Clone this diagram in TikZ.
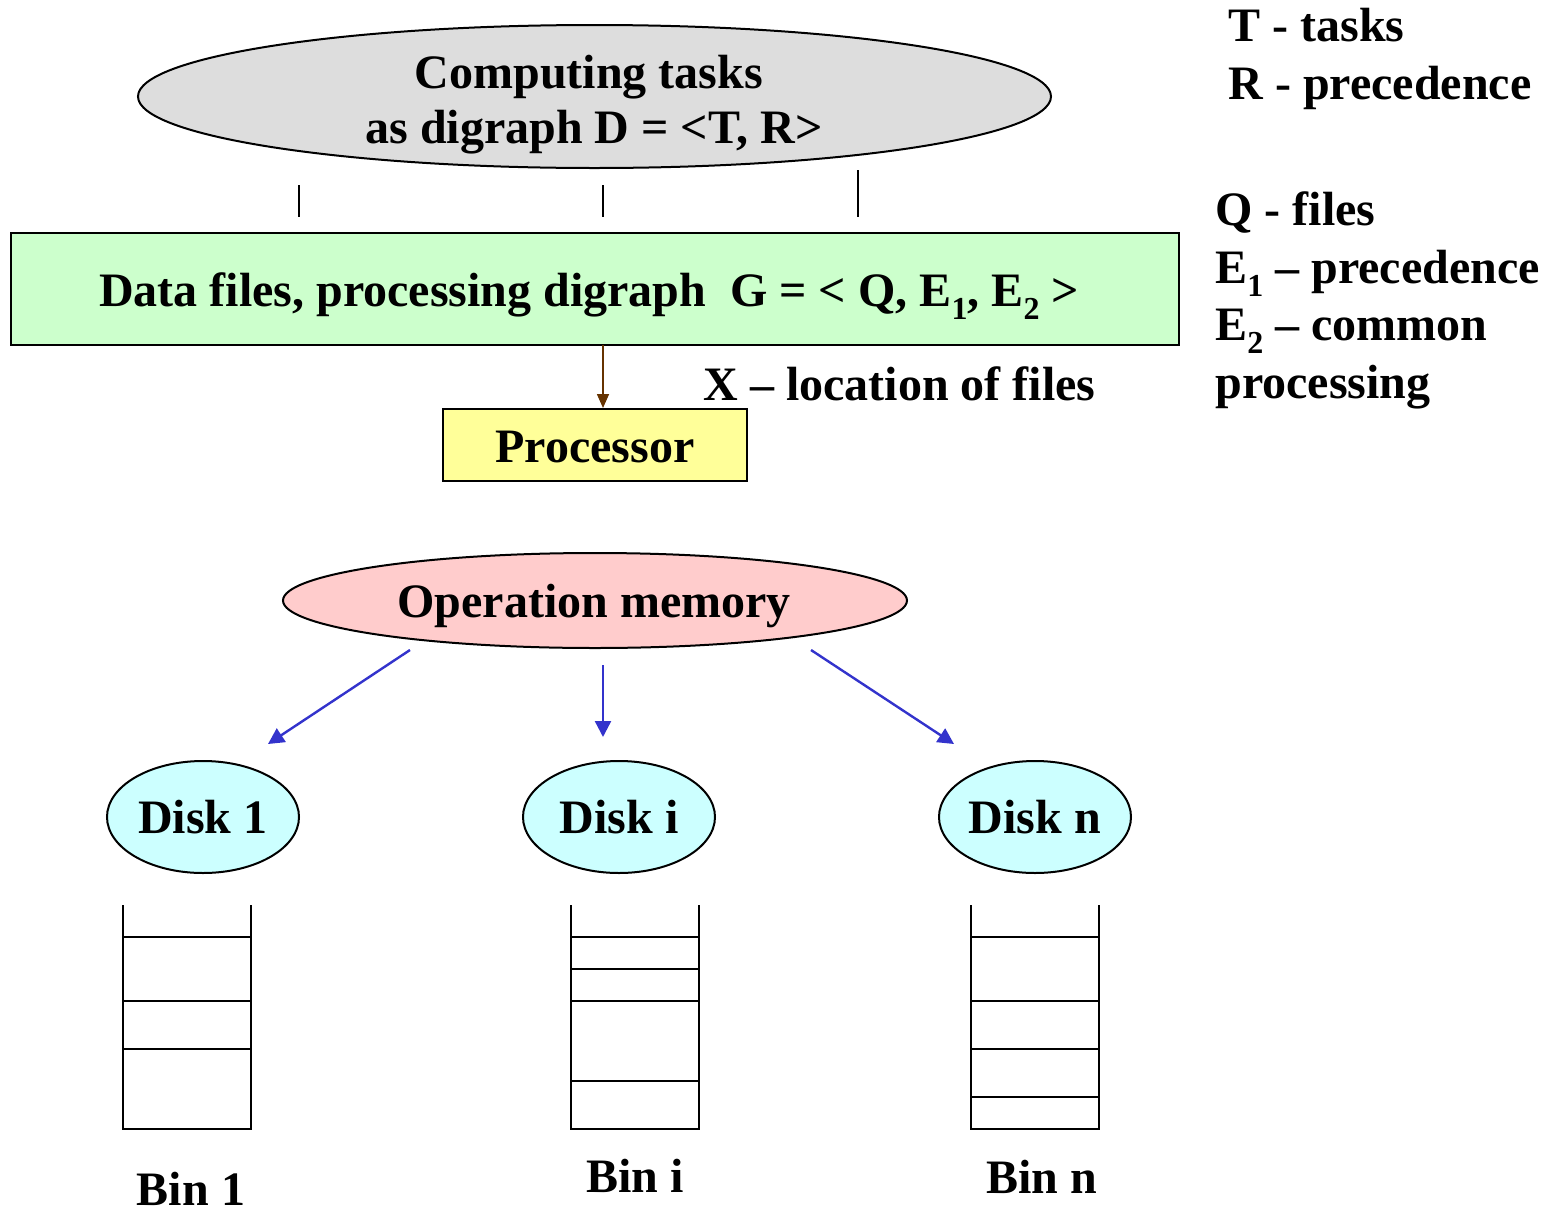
\documentclass[tikz,border=0pt]{standalone}
\usepackage{fontspec}
\setmainfont{Liberation Serif}
\usetikzlibrary{shapes.geometric,arrows.meta}

\definecolor{taskgray}{HTML}{DDDDDD}
\definecolor{filegreen}{HTML}{CCFFCC}
\definecolor{procyellow}{HTML}{FFFF99}
\definecolor{mempink}{HTML}{FFCCCC}
\definecolor{diskcyan}{HTML}{CCFFFF}
\definecolor{arrowblue}{HTML}{3333CC}
\definecolor{arrowbrown}{HTML}{663300}

\newcommand{\lowsub}[1]{\raisebox{-0.28em}{\fontsize{16}{16}\selectfont #1}}

\tikzset{
  lbl/.style={font=\fontsize{24}{28}\selectfont\bfseries, inner sep=0pt},
  oval/.style={ellipse, draw=black, line width=1pt, inner sep=0pt, lbl},
  boxed/.style={rectangle, draw=black, line width=1pt, inner sep=0pt, lbl},
  tick/.style={line width=0.7pt},
  memarrow/.style={draw=arrowblue, line width=1.2pt, -{Triangle[length=8pt,width=8pt]}},
  binline/.style={line width=1pt}
}

\begin{document}
\begin{tikzpicture}[x=0.5pt,y=-0.5pt]
  \useasboundingbox (0,0) rectangle (1555,1211);

  % task digraph
  \node[oval, fill=taskgray, minimum width=456.5pt, minimum height=71.5pt]
    (tasks) at (594.5,96.5) {};
  \node[lbl, anchor=base] (tasks1) at (589,88) {Computing tasks};
  \node[lbl, anchor=base] (tasks2) at (594,143) {as digraph D = <T, R>};

  % short marks between the task digraph and the file digraph
  \coordinate (t1a) at (299,185); \coordinate (t1b) at (299,217);
  \coordinate (t2a) at (603,185); \coordinate (t2b) at (603,217);
  \coordinate (t3a) at (858,170); \coordinate (t3b) at (858,217);
  \draw[tick] (t1a) -- (t1b);
  \draw[tick] (t2a) -- (t2b);
  \draw[tick] (t3a) -- (t3b);

  % file digraph
  \node[boxed, fill=filegreen, minimum width=584pt, minimum height=56pt]
    (files) at (595,289) {};
  \node[lbl, anchor=base] (filestext) at (589,306)
    {Data files, processing digraph\ \ G = < Q, E\lowsub{1}, E\lowsub{2} >};

  % processor
  \node[boxed, fill=procyellow, minimum width=152pt, minimum height=36pt]
    (proc) at (595,444.5) {};
  \node[lbl, anchor=base] (proctext) at (595,462) {Processor};
  \coordinate (pa) at (603,345);
  \coordinate (pb) at (603,408);
  \draw[draw=arrowbrown, line width=0.8pt, -{Triangle[length=7pt,width=6pt]}] (pa) -- (pb);
  \node[lbl, anchor=base west] (xloc) at (703,400) {X -- location of files};

  % legend
  \node[lbl, anchor=base west] (legT) at (1228,41) {T - tasks};
  \node[lbl, anchor=base west] (legR) at (1228,99) {R - precedence};
  \node[lbl, anchor=base west] (legQ) at (1215,225) {Q - files};
  \node[lbl, anchor=base west] (legE1) at (1215,283) {E\lowsub{1} -- precedence};
  \node[lbl, anchor=base west] (legE2) at (1215,340) {E\lowsub{2} -- common};
  \node[lbl, anchor=base west] (legP) at (1215,398) {processing};

  % operation memory
  \node[oval, fill=mempink, minimum width=312pt, minimum height=47.5pt]
    (mem) at (595,600.5) {};
  \node[lbl, anchor=base] (memtext) at (594,617) {Operation memory};

  % disks
  \node[oval, fill=diskcyan, minimum width=96pt, minimum height=56pt] (disk1) at (203,817) {Disk 1};
  \node[oval, fill=diskcyan, minimum width=96pt, minimum height=56pt] (diski) at (619,817) {Disk i};
  \node[oval, fill=diskcyan, minimum width=96pt, minimum height=56pt] (diskn) at (1035,817) {Disk n};

  \coordinate (m1a) at (410,650); \coordinate (m1b) at (268,744);
  \coordinate (m2a) at (603,665); \coordinate (m2b) at (603,737);
  \coordinate (m3a) at (811,650); \coordinate (m3b) at (954,744);
  \draw[memarrow] (m1a) -- (m1b);
  \draw[memarrow] (m2a) -- (m2b);
  \draw[memarrow] (m3a) -- (m3b);

  % bins
  \draw[binline] (123,905) -- (123,1129) -- (251,1129) -- (251,905);
  \foreach \y in {937,1001,1049} \draw[binline] (123,\y) -- (251,\y);
  \draw[binline] (571,905) -- (571,1129) -- (699,1129) -- (699,905);
  \foreach \y in {937,969,1001,1081} \draw[binline] (571,\y) -- (699,\y);
  \draw[binline] (971,905) -- (971,1129) -- (1099,1129) -- (1099,905);
  \foreach \y in {937,1001,1049,1097} \draw[binline] (971,\y) -- (1099,\y);

  \node[lbl, anchor=base] (bin1) at (191,1205) {Bin 1};
  \node[lbl, anchor=base] (bini) at (635,1192) {Bin i};
  \node[lbl, anchor=base] (binn) at (1042,1193) {Bin n};
\end{tikzpicture}
\end{document}
